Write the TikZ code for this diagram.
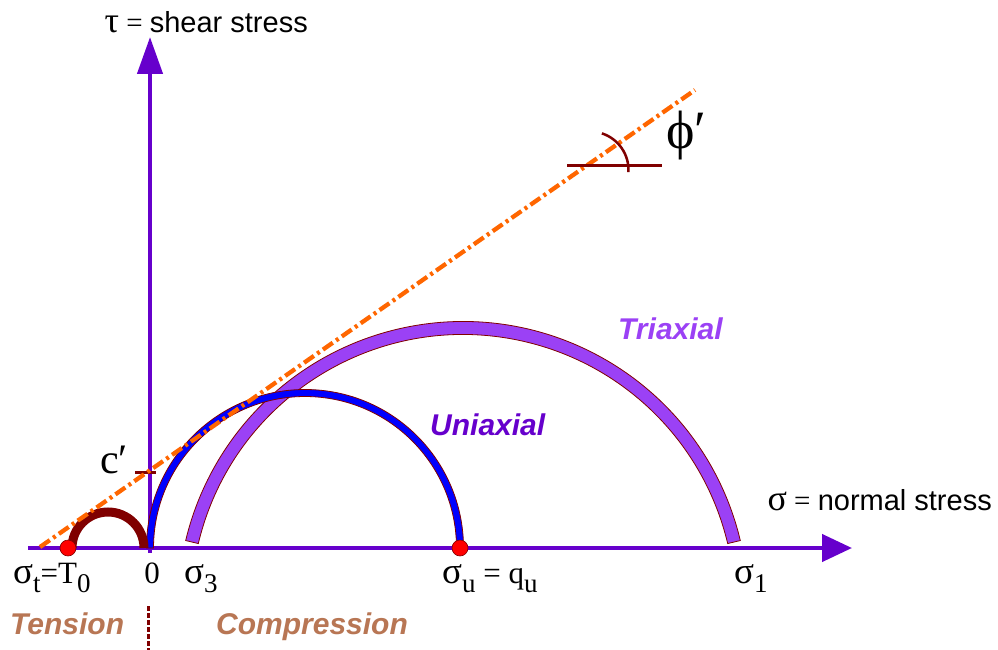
\documentclass[tikz,border=0pt]{standalone}
\usepackage{fontspec}
\setmainfont{Liberation Serif}
\setsansfont{Liberation Sans}
\usetikzlibrary{arrows.meta,calc}
\definecolor{axisviolet}{RGB}{102,0,204}
\definecolor{darkred}{RGB}{128,0,0}
\definecolor{envorange}{RGB}{255,102,0}
\definecolor{tripurple}{RGB}{155,65,245}
\definecolor{tanbrown}{RGB}{184,118,84}
\definecolor{circblue}{RGB}{0,0,255}
\newcommand{\sbs}[1]{\raisebox{-9pt}{\fontsize{27}{27}\selectfont #1}}
\newcommand{\sgm}{{\fontsize{37}{37}\selectfont σ}}
\begin{document}
\begin{tikzpicture}[x=1pt,y=1pt,
  axisline/.style={draw=axisviolet,line width=4.4pt},
  lbl/.style={inner sep=0pt,font=\fontsize{31}{31}\selectfont},
  sanslbl/.style={inner sep=0pt,font=\sffamily\fontsize{29}{29}\selectfont},
  regionlbl/.style={inner sep=0pt,text=tanbrown,font=\sffamily\bfseries\itshape\fontsize{30}{30}\selectfont},
  circlbl/.style={inner sep=0pt,font=\sffamily\bfseries\itshape\fontsize{30}{30}\selectfont},
  reddot/.style={circle,fill=red,draw=darkred,line width=0.6pt,minimum size=16pt,inner sep=0pt},
  marker/.style={draw=darkred,line width=3pt},
  envelope/.style={draw=envorange,line width=4.3pt,dash pattern=on 12pt off 4pt on 3pt off 4pt},
]
\useasboundingbox (0,0) rectangle (998,-650);
% key points
\coordinate (O) at (150,-548);
\coordinate (xstart) at (28,-548);
\coordinate (xend) at (852,-548);
\coordinate (ystart) at (150,-553);
\coordinate (yend) at (150,-37);
\coordinate (tcen) at (108,-548);
\coordinate (ucen) at (305,-548);
\coordinate (tricen) at (463,-606.6);
\coordinate (envA) at (40,-547);
\coordinate (envB) at (695,-90);
\coordinate (cA) at (135,-472);
\coordinate (cB) at (156,-472);
\coordinate (phA) at (567,-165);
\coordinate (phB) at (662,-165);
\coordinate (phcen) at (590,-170);
\coordinate (sepA) at (148,-606);
\coordinate (sepB) at (148,-650);

% axes
\draw[axisline,-{Triangle[length=30pt,width=27pt]}] (xstart) -- (xend);
\draw[axisline,-{Triangle[length=37pt,width=25pt]}] (ystart) -- (yend);

% triaxial circle band
\path[fill=tripurple,draw=darkred,line width=0.8pt]
  ($(tricen)+(13.4:285.1)$) arc[start angle=13.4,end angle=166.6,radius=285.1]
  -- ($(tricen)+(166.6:272.1)$) arc[start angle=166.6,end angle=13.4,radius=272.1] -- cycle;

% uniaxial circle band
\path[fill=circblue,draw=darkred,line width=0.8pt]
  ($(ucen)+(0:158.5)$) arc[start angle=0,end angle=180,radius=158.5]
  -- ($(ucen)+(180:151.5)$) arc[start angle=180,end angle=0,radius=151.5] -- cycle;

% tension circle
\draw[darkred,line width=9pt] ($(tcen)+(180:36)$) arc[start angle=180,end angle=0,radius=36];

% c' tick
\draw[marker] (cA) -- (cB);

% failure envelope
\draw[envelope] (envA) -- (envB);

% phi' marker
\draw[marker] (phA) -- (phB);
\draw[darkred,line width=2.5pt] ($(phcen)+(72:38.5)$) arc[start angle=72,end angle=-3,radius=38.5];

% red dots
\node[reddot] (dotT) at (68,-548) {};
\node[reddot] (dotU) at (460,-548) {};

% separator
\draw[darkred,line width=3pt,dash pattern=on 5pt off 2pt] (sepA) -- (sepB);

% texts
\node[sanslbl,anchor=base east] (tauLbl) at (308,-33) {{\rmfamily{\fontsize{36}{36}\selectfont τ} = }shear stress};
\node[sanslbl,anchor=base east] (sigLbl) at (992,-510) {{\rmfamily{\fontsize{36}{36}\selectfont σ} = }normal stress};
\node[lbl,anchor=base west] (sigT) at (13,-583) {\sgm\sbs{t}=T\sbs{0}};
\node[lbl,anchor=base] (zeroLbl) at (152,-583) {0};
\node[lbl,anchor=base west] (sig3) at (184,-583) {\sgm\sbs{3}};
\node[lbl,anchor=base west] (sigU) at (442,-583) {\sgm\sbs{u} = q\sbs{u}};
\node[lbl,anchor=base west] (sig1) at (734,-583) {\sgm\sbs{1}};
\node[regionlbl,anchor=base west] (tension) at (10,-634) {Tension};
\node[regionlbl,anchor=base west] (compression) at (216,-634) {Compression};
\node[circlbl,text=tripurple,anchor=base west] (triLbl) at (618,-339) {Triaxial};
\node[circlbl,text=axisviolet,anchor=base west] (uniLbl) at (430,-435) {Uniaxial};
\node[inner sep=0pt,anchor=base west,font=\fontsize{42}{42}\selectfont] (cLbl) at (100,-473) {c′};
\node[inner sep=0pt,anchor=base west,font=\fontsize{54}{54}\selectfont] (phiLbl) at (666,-148) {ϕ′};
\end{tikzpicture}
\end{document}
